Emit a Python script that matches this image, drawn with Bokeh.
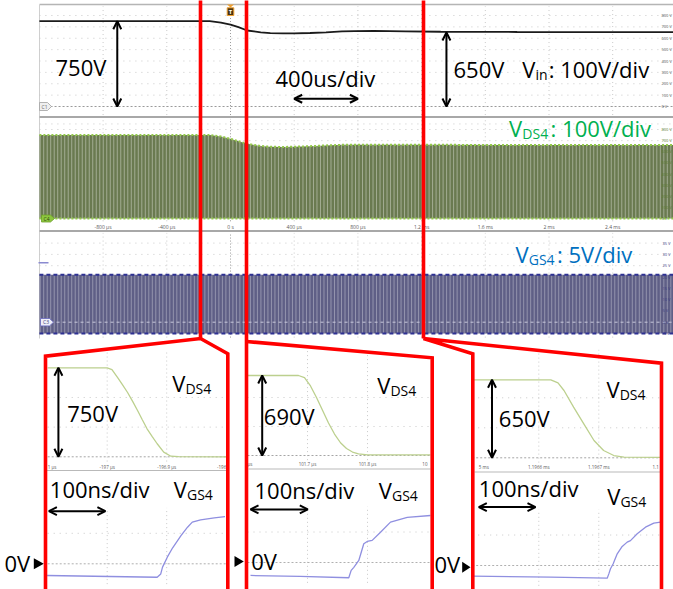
import numpy as np
from bokeh.plotting import figure
from bokeh.models import Range1d, Arrow, OpenHead, Label
from bokeh.embed import file_html
from bokeh.resources import INLINE
from bokeh.core.properties import value

# ------------------------------------------------------------------ data
# Top capture: 400 us/div, Vin 100 V/div, VDS4 100 V/div, VGS4 5 V/div
top_ticks_us = [-800, -400, 0, 400, 800, 1200, 1600, 2000, 2400]
top_tick_labels = ["-800 µs", "-400 µs", "0 s", "400 µs", "800 µs", "1.2 ms", "1.6 ms", "2 ms", "2.4 ms"]
top_grid_us = [-800, -400, 0, 400, 800, 1200, 1600, 2000, 2400]
vin_t_us = [-1200, -130, -60, 0, 50, 105, 190, 250, 330, 400, 500, 600, 700, 780, 900, 1100, 1320, 1800, 2400, 2900]
vin_v = [750, 750, 738, 719, 697, 668, 652, 645, 643, 643, 646, 652, 660, 663, 664, 661, 657, 655, 654, 654]
vds_env_t_us = [-1200, -130, -60, 0, 50, 105, 190, 250, 330, 400, 500, 600, 700, 780, 900, 1100, 1320, 1800, 2400, 2900]
vds_env_v = [750, 750, 738, 716, 695, 671, 652, 645, 643, 645, 650, 657, 662, 664, 664, 663, 662, 661, 661, 661]
vgs_on_v = 21
vgs_off_v = -5
switching_period_us = 22
vin_scale_v = [0, 100, 200, 300, 400, 500, 600, 700, 800]
vin_scale_labels = ["0 V", "100 V", "200 V", "300 V", "400 V", "500 V", "600 V", "700 V", "800 V"]
vgs_scale_v = [-5, 0, 5, 10, 15, 20, 25, 30, 35]
vgs_scale_labels = ["-5 V", "0 V", "5 V", "10 V", "15 V", "20 V", "25 V", "30 V", "35 V"]

# Zoom 1 (around -197 us), 100 ns/div
z1_ticks_us = [-197.1, -197.0, -196.9, -196.8]
z1_tick_labels = ["1 µs", "-197 µs", "-196.9 µs", "-196"]
z1_vds_t = [-197.10, -197.00, -196.992, -196.983, -196.975, -196.966, -196.957, -196.949, -196.941,
            -196.933, -196.924, -196.916, -196.905, -196.893, -196.88, -196.80]
z1_vds_v = [750, 750, 735, 671, 612, 544, 465, 390, 312, 236, 168, 110, 39, 5, 1, 0]
z1_vgs_t = [-197.101, -196.916, -196.910, -196.907, -196.899, -196.890, -196.876, -196.865, -196.857,
            -196.843, -196.820, -196.802]
z1_vgs_v = [-4.6, -5.3, -4.0, -1.3, 2.6, 6.3, 11.1, 14.4, 16.4, 17.3, 18.1, 18.6]

# Zoom 2 (around 101.7 us)
z2_ticks_us = [101.6, 101.7, 101.8, 101.9]
z2_tick_labels = ["µs", "101.7 µs", "101.8 µs", "10"]
z2_vds_t = [101.60, 101.685, 101.695, 101.705, 101.715, 101.725, 101.735, 101.745, 101.755, 101.765,
            101.775, 101.785, 101.80, 101.905]
z2_vds_v = [690, 690, 672, 600, 500, 390, 280, 185, 110, 60, 30, 14, 6, 5]
z2_vgs_t = [101.605, 101.688, 101.7688, 101.7728, 101.7772, 101.7855, 101.7938, 101.7995, 101.8078,
            101.8217, 101.8383, 101.8662, 101.905]
z2_vgs_v = [-5.1, -5.5, -6.0, -3.1, -1.9, 0.8, 7.4, 8.3, 8.7, 11.9, 15.9, 17.8, 18.5]

# Zoom 3 (around 1.1966 ms)
z3_ticks_us = [1196.5, 1196.6, 1196.7, 1196.8]
z3_tick_labels = ["5 ms", "1.1966 ms", "1.1967 ms", "1.1"]
z3_vds_t = [1196.489, 1196.62, 1196.632, 1196.642, 1196.658, 1196.675, 1196.692, 1196.708, 1196.725,
            1196.742, 1196.804]
z3_vds_v = [650, 650, 625, 561, 422, 283, 144, 61, 19, 5, 4]
z3_vgs_t = [1196.4895, 1196.6195, 1196.714, 1196.7167, 1196.7195, 1196.724, 1196.7307, 1196.739,
            1196.7473, 1196.7528, 1196.764, 1196.7778, 1196.7917, 1196.8028]
z3_vgs_v = [-4.2, -4.6, -5.0, -3.3, -1.3, 0.7, 4.6, 7.5, 9.2, 9.8, 12.5, 15.1, 16.7, 17.1]

# ------------------------------------------------------------------ layout
PX_X = (0, 673)
PX_Y = (0, 589)
BASE_FIX = -9.5   # Label alphabetic baseline correction (px)


def rng(d0, p0, d1, p1, vertical):
    lo, hi = PX_Y if vertical else PX_X
    k = (p1 - p0) / (d1 - d0)
    a = d0 + (lo - p0) / k
    b = d0 + (hi - p0) / k
    return Range1d(start=b, end=a) if vertical else Range1d(start=a, end=b)


p = figure(width=673, height=589, x_range=Range1d(*PX_X), y_range=Range1d(PX_Y[1], PX_Y[0]),
           output_backend="svg", toolbar_location=None, tools="",
           x_axis_location=None, y_axis_location=None, min_border=0,
           outline_line_color=None, background_fill_color="white", border_fill_color="white")
p.grid.visible = False

p.extra_x_ranges = {
    "tt": rng(0, 230, 400, 293.7, False),
    "t1": rng(-197.0, 106.7, -196.9, 166.2, False),
    "t2": rng(101.7, 307, 101.8, 367, False),
    "t3": rng(1196.6, 538.3, 1196.7, 598.3, False),
}
p.extra_y_ranges = {
    "vin": rng(0, 106, 800, 15.0, True),
    "vds": rng(0, 218, 800, 129, True),
    "vgs": rng(0, 321.7, 20, 276.5, True),
    "d1": rng(0, 456.3, 750, 367.3, True),
    "g1": rng(0, 563.3, 20, 512.5, True),
    "d2": rng(0, 455, 690, 375, True),
    "g2": rng(0, 562, 20, 511.2, True),
    "d3": rng(0, 457.3, 650, 379.3, True),
    "g3": rng(0, 565, 20, 514.2, True),
}

FONT = "Open Sans"
GRID = "#c9c9c9"

# ------------------------------------------------------------------ top scope frame
p.segment(x0=[39], y0=[4], x1=[680], y1=[4], line_color="#b5b5b5", line_width=1.5)
p.segment(x0=[39], y0=[4], x1=[39], y1=[338], line_color="#cfcfcf", line_width=1)
p.segment(x0=[39, 39], y0=[116.5, 230.5], x1=[680, 680], y1=[116.5, 230.5], line_color="#a8a8a8", line_width=2)

for yr, lo, hi in (("vin", -75, 880), ("vds", -25, 895), ("vgs", -6.8, 39.5)):
    gx = [g for g in top_grid_us if g != 0]
    p.segment(x0=gx, y0=lo, x1=gx, y1=hi, x_range_name="tt", y_range_name=yr,
              line_color=GRID, line_dash="1 3", line_width=1)
    p.segment(x0=[0], y0=lo, x1=[0], y1=hi, x_range_name="tt", y_range_name=yr,
              line_color="#9a9a9a", line_dash="1 2", line_width=1)

hv = [v for v in vin_scale_v if v > 0]
p.segment(x0=-1200, y0=hv, x1=2900, y1=hv, x_range_name="tt", y_range_name="vin",
          line_color=GRID, line_dash="1 5", line_width=1)
p.segment(x0=-1200, y0=hv + [850], x1=2900, y1=hv + [850], x_range_name="tt", y_range_name="vds",
          line_color=GRID, line_dash="1 5", line_width=1)
hg = [v for v in vgs_scale_v if v > 20]
p.segment(x0=-1200, y0=hg, x1=2900, y1=hg, x_range_name="tt", y_range_name="vgs",
          line_color=GRID, line_dash="1 5", line_width=1)

# ---- Vin panel
p.segment(x0=-1130, y0=0, x1=2900, y1=0, x_range_name="tt", y_range_name="vin",
          line_color="#9a9a9a", line_dash="2 2", line_width=1)
p.line(vin_t_us, vin_v, x_range_name="tt", y_range_name="vin", line_color="#1b1b1b", line_width=1.8)
p.patch([39, 47, 51, 47, 39], [102, 102, 106, 110, 110], fill_color="#efefef", line_color="#a0a0a0", line_width=0.8)
p.text([44], [106], text=["C1"], text_font=value(FONT), text_font_size="5px", text_align="center",
       text_baseline="middle", text_color="#666666")

# ---- VDS panel
sw_t = np.arange(-1195, 2900, switching_period_us)
env_at = np.interp(sw_t, vds_env_t_us, vds_env_v)
p.varea(x=vds_env_t_us, y1=0, y2=vds_env_v, x_range_name="tt", y_range_name="vds", fill_color="#6a7a50")
p.segment(x0=sw_t, y0=0, x1=sw_t, y1=env_at, x_range_name="tt", y_range_name="vds",
          line_color="white", line_alpha=0.38, line_width=1)
p.line(vds_env_t_us, vds_env_v, x_range_name="tt", y_range_name="vds", line_color="#93c94a",
       line_width=2, line_dash="2 2")
p.line([-1200, 2900], [0, 0], x_range_name="tt", y_range_name="vds", line_color="#93c94a",
       line_width=2, line_dash="2 2")
p.patch([41, 50, 54, 50, 41], [214.5, 214.5, 218, 221.5, 221.5], fill_color="#8dc63f", line_color="#6da02a", line_width=0.8)
p.text([46], [218], text=["C4"], text_font=value(FONT), text_font_size="5px", text_align="center",
       text_baseline="middle", text_color="#2f4a10")

p.text(x=top_ticks_us, y=[226.5] * len(top_ticks_us), text=top_tick_labels, x_range_name="tt",
       text_font=value(FONT), text_font_size="5px", text_align="center", text_baseline="middle",
       text_color="#5a5a5a")

# ---- VGS panel
p.varea(x=[-1200, 2900], y1=[vgs_off_v] * 2, y2=[vgs_on_v] * 2, x_range_name="tt", y_range_name="vgs",
        fill_color="#5f5f86")
p.segment(x0=sw_t, y0=vgs_off_v, x1=sw_t, y1=vgs_on_v, x_range_name="tt", y_range_name="vgs",
          line_color="white", line_alpha=0.33, line_width=1)
p.line([-1200, 2900], [vgs_on_v] * 2, x_range_name="tt", y_range_name="vgs", line_color="#2e3192",
       line_width=2, line_dash="4 3")
p.line([-1200, 2900], [vgs_off_v] * 2, x_range_name="tt", y_range_name="vgs", line_color="#2e3192",
       line_width=2, line_dash="4 3")
p.line([-1130, 2900], [0, 0], x_range_name="tt", y_range_name="vgs", line_color="#c8c8dc",
       line_width=1, line_dash="3 3")
p.segment(x0=[38], y0=[262.3], x1=[48], y1=[262.3], line_color="#8a8ad0", line_width=1.5)
p.patch([40, 49, 53, 49, 40], [318, 318, 321.7, 325.4, 325.4], fill_color="#eeeef8", line_color="#6868c0", line_width=0.8)
p.text([45.5], [321.7], text=["C3"], text_font=value(FONT), text_font_size="5px", text_align="center",
       text_baseline="middle", text_color="#40407a")

# right-hand scale labels
p.text(x=[661] * 9, y=vin_scale_v, text=vin_scale_labels, y_range_name="vin", text_font=value(FONT),
       text_font_size="4px", text_baseline="middle", text_color="#505050")
p.text(x=[661] * 9, y=vin_scale_v, text=vin_scale_labels, y_range_name="vds", text_font=value(FONT),
       text_font_size="4px", text_baseline="middle", text_color="#5c7a30")
p.text(x=[662] * 9, y=vgs_scale_v, text=vgs_scale_labels, y_range_name="vgs", text_font=value(FONT),
       text_font_size="4px", text_baseline="middle", text_color="#3a3a80")

# trigger marker
p.patch([226.5, 233.5, 230], [4, 4, 7], fill_color="#f0a030", line_color=None)
p.quad(left=[226.7], right=[233.3], top=[7.3], bottom=[15], fill_color="#4a3310", line_color="#f0a030", line_width=1)
p.text([230], [11.3], text=["T"], text_font=value(FONT), text_font_size="6px", text_align="center",
       text_baseline="middle", text_color="white", text_font_style="bold")

# ------------------------------------------------------------------ zoom panels
zooms = [
    ("t1", "d1", "g1", z1_ticks_us, z1_tick_labels, z1_vds_t, z1_vds_v, z1_vgs_t, z1_vgs_v, 46.5, 225.5, 466.5, 470),
    ("t2", "d2", "g2", z2_ticks_us, z2_tick_labels, z2_vds_t, z2_vds_v, z2_vgs_t, z2_vgs_v, 248, 430, 463.5, 468.5),
    ("t3", "d3", "g3", z3_ticks_us, z3_tick_labels, z3_vds_t, z3_vds_v, z3_vgs_t, z3_vgs_v, 474, 659.5, 466.5, 471.5),
]
for (tx, dy, gy, ticks, tlabels, dt, dv, gt, gv, xl, xr, ylab, ysep) in zooms:
    t0, t1 = dt[0], dt[-1]
    inner = ticks[1:3]
    p.segment(x0=inner, y0=-40, x1=inner, y1=900, x_range_name=tx, y_range_name=dy,
              line_color=GRID, line_dash="1 3", line_width=1)
    p.segment(x0=inner, y0=-8, x1=inner, y1=22, x_range_name=tx, y_range_name=gy,
              line_color=GRID, line_dash="1 3", line_width=1)
    p.segment(x0=[t0], y0=[12], x1=[t1], y1=[12], x_range_name=tx, y_range_name=gy,
              line_color=GRID, line_dash="1 5", line_width=1)
    p.segment(x0=[t0, t0], y0=[250, 500], x1=[t1, t1], y1=[250, 500], x_range_name=tx, y_range_name=dy,
              line_color=GRID, line_dash="1 5", line_width=1)
    p.segment(x0=[t0], y0=[0], x1=[t1], y1=[0], x_range_name=tx, y_range_name=dy,
              line_color="#a5a5a5", line_dash="2 2", line_width=1)
    p.segment(x0=[t0], y0=[0], x1=[t1], y1=[0], x_range_name=tx, y_range_name=gy,
              line_color="#b0b0b0", line_dash="2 2", line_width=1)
    p.line(dt, dv, x_range_name=tx, y_range_name=dy, line_color="#bcd08e", line_width=1.3)
    p.line(gt, gv, x_range_name=tx, y_range_name=gy, line_color="#8f8fe0", line_width=1.3)
    p.text(x=[ticks[0]], y=[ylab], text=[tlabels[0]], x_range_name=tx, text_font=value(FONT),
           text_font_size="4.5px", text_align="left", text_baseline="middle", text_color="#5a5a5a")
    p.text(x=inner, y=[ylab] * 2, text=tlabels[1:3], x_range_name=tx, text_font=value(FONT),
           text_font_size="4.5px", text_align="center", text_baseline="middle", text_color="#5a5a5a")
    p.text(x=[ticks[-1]], y=[ylab], text=[tlabels[-1]], x_range_name=tx, text_font=value(FONT),
           text_font_size="4.5px", text_align="right", text_baseline="middle", text_color="#5a5a5a")
    p.segment(x0=[xl], y0=[ysep], x1=[xr], y1=[ysep], line_color="#b9b9b9", line_width=1)


# ------------------------------------------------------------------ annotations
def label(x, y, s, size=22, color="black"):
    p.add_layout(Label(x=x, y=y + BASE_FIX, text=s, text_font=FONT, text_font_size=f"{size}px",
                       text_color=color, text_align="left", text_baseline="alphabetic"))


def sub_label(x, y, main, sub, rest="", size=22, sub_size=14, color="black", sub_dx=13.2, sub_dy=5.5, rest_dx=None):
    label(x, y, main, size, color)
    label(x + sub_dx, y + sub_dy, sub, sub_size, color)
    if rest:
        label(x + rest_dx, y, rest, size, color)


label(55, 76, "750V")
label(275, 87, "400us/div")
label(453, 78, "650V")
sub_label(521.7, 78, "V", "in", ": 100V/div", rest_dx=26.5)
sub_label(508.6, 136.7, "V", "DS4", ": 100V/div", color="#00b050", rest_dx=41.5)
sub_label(515, 262.7, "V", "GS4", ": 5V/div", color="#0070c0", rest_dx=41.5)

label(66.7, 421.7, "750V")
sub_label(171.7, 391.7, "V", "DS4")
label(49.3, 498.3, "100ns/div")
sub_label(173.3, 498.3, "V", "GS4")
label(4, 571.7, "0V")

label(263.3, 425, "690V")
sub_label(376.7, 394, "V", "DS4")
label(254, 499.3, "100ns/div")
sub_label(378.3, 499.3, "V", "GS4")
label(250.7, 570, "0V")

label(498.3, 427.3, "650V")
sub_label(606, 398.3, "V", "DS4")
label(478.3, 497.3, "100ns/div")
sub_label(606.7, 505, "V", "GS4")
label(434, 573.3, "0V")

p.patches([[33.3, 43.3, 33.3], [234, 243.3, 234], [461.7, 470, 461.7]],
          [[557.8, 563.3, 568.8], [555.5, 561, 566.5], [561.2, 566.7, 572.2]],
          fill_color="black", line_color=None)


def arrow(x0, y0, x1, y1, xr, yr):
    p.add_layout(Arrow(start=OpenHead(size=8, line_width=2), end=OpenHead(size=8, line_width=2),
                       x_start=x0, y_start=y0, x_end=x1, y_end=y1, line_width=2, line_color="black",
                       x_range_name=xr, y_range_name=yr))


arrow(-711, 0, -711, 750, "tt", "vin")
arrow(1356, 0, 1356, 650, "tt", "vin")
arrow(400, 68, 800, 68, "tt", "vin")
arrow(-197.082, 0, -197.082, 750, "t1", "d1")
arrow(101.6245, 0, 101.6245, 690, "t2", "d2")
arrow(1196.522, 0, 1196.522, 650, "t3", "d3")
arrow(-197.098, 20.7, -197.003, 20.7, "t1", "g1")
arrow(101.605, 20.9, 101.7005, 20.9, "t2", "g2")
arrow(1196.5, 23, 1196.5945, 23, "t3", "g3")

# ------------------------------------------------------------------ red zoom markers
red = p.multi_line(
    xs=[[200, 200], [45, 45, 200, 227.3, 227.3],
        [246, 246], [246, 431.7, 431.7],
        [423, 423], [472.3, 472.3, 423, 661, 661]],
    ys=[[0, 338], [595, 355.7, 338, 353.3, 595],
        [0, 595], [341, 357.3, 595],
        [0, 338], [595, 353.3, 338, 362.7, 595]],
    line_color="#ff0000", line_width=3.6, line_join="miter")
red.level = "overlay"

open("out.html", "w").write(file_html(p, INLINE))
